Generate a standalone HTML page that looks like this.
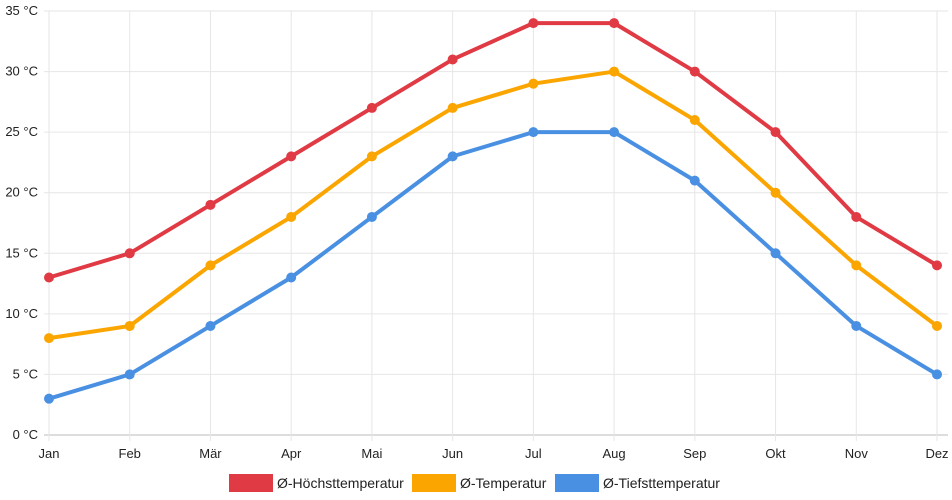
<!DOCTYPE html>
<html><head><meta charset="utf-8"><style>
html,body{margin:0;padding:0;background:#fff;width:952px;height:500px;overflow:hidden}
svg{font-family:"Liberation Sans",Arial,sans-serif}
</style></head><body>
<svg id="chart" width="952" height="500"></svg>
<script>
const months=["Jan","Feb","Mär","Apr","Mai","Jun","Jul","Aug","Sep","Okt","Nov","Dez"];
const maxTemp=[13,15,19,23,27,31,34,34,30,25,18,14];
const avgTemp=[8,9,14,18,23,27,29,30,26,20,14,9];
const minTemp=[3,5,9,13,18,23,25,25,21,15,9,5];
const yTicks=[0,5,10,15,20,25,30,35];
const seriesNames=["Ø-Höchsttemperatur","Ø-Temperatur","Ø-Tiefsttemperatur"];
const NS="http://www.w3.org/2000/svg";
const svg=document.getElementById('chart');
const X0=49,X1=937,Y0=435,Y1=11;
const x=i=>X0+(X1-X0)*i/(months.length-1);
const y=v=>Y0-(Y0-Y1)*v/35;
function mk(t,a,p){const e=document.createElementNS(NS,t);for(const k in a)e.setAttribute(k,a[k]);(p||svg).appendChild(e);return e;}
yTicks.forEach(v=>{
  const l=mk('line',{x1:X0-5,x2:X1+11,y1:y(v),y2:y(v),stroke:v===0?'#bbb':'#e6e6e6','stroke-width':1});
  
  
  const t=mk('text',{x:38,y:y(v)+4,'text-anchor':'end','font-size':13,fill:'#222'});
  t.textContent=v+' °C';
  
  
});
months.forEach((m,i)=>{
  const l=mk('line',{x1:x(i),x2:x(i),y1:Y1,y2:Y0+6,stroke:'#e6e6e6','stroke-width':1});
  
  
  const t=mk('text',{x:x(i),y:458,'text-anchor':'middle','font-size':13,fill:'#222'});
  t.textContent=m;
  
  
});
const series=[[maxTemp,'#e03a45'],[avgTemp,'#fba500'],[minTemp,'#4a90e2']];
series.forEach(([d,c],si)=>{
  const p=mk('polyline',{points:d.map((v,i)=>x(i)+','+y(v)).join(' '),fill:'none',stroke:c,'stroke-width':4,'stroke-linejoin':'round'});
  
  
  d.forEach((v,i)=>{
    const ci=mk('circle',{cx:x(i),cy:y(v),r:5,fill:c});
    
    
  });
});
const lx=[229,412,555];
seriesNames.forEach((n,i)=>{
  const r=mk('rect',{x:lx[i],y:474,width:44,height:18,fill:series[i][1]});
  
  
  const t=mk('text',{x:lx[i]+48,y:488,'font-size':14,fill:'#222'});
  t.textContent=n;
  
  
});
</script>
</body></html>
